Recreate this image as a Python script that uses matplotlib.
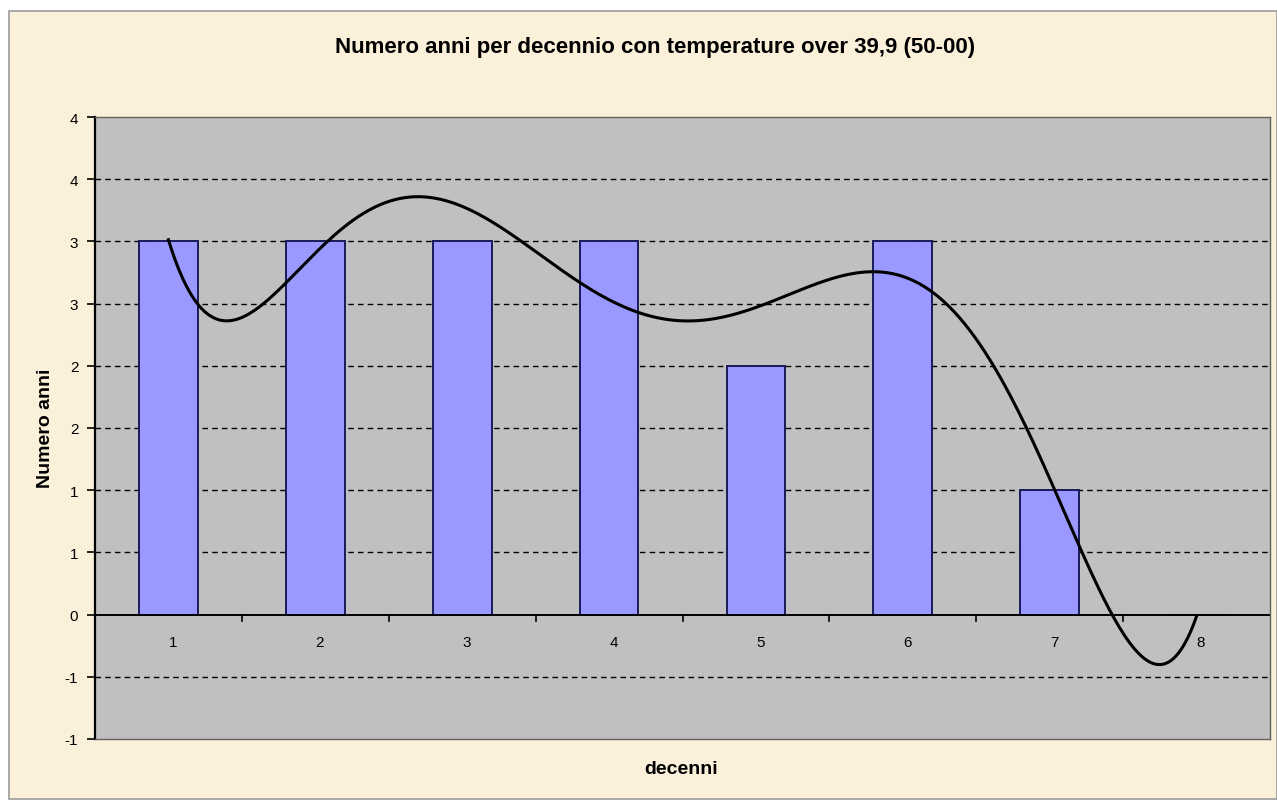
import numpy as np
import matplotlib
matplotlib.use("Agg")
import matplotlib.pyplot as plt
from matplotlib.patches import Rectangle

# ---- data ----
categories = ["1", "2", "3", "4", "5", "6", "7", "8"]
values = [3, 3, 3, 3, 2, 3, 1, 0]
y_ticks = [-1.0, -0.5, 0.0, 0.5, 1.0, 1.5, 2.0, 2.5, 3.0, 3.5, 4.0]
y_tick_labels = ["-1", "-1", "0", "1", "1", "2", "2", "3", "3", "4", "4"]
trend_degree = 6

title = "Numero anni per decennio con temperature over 39,9 (50-00)"
xlabel = "decenni"
ylabel = "Numero anni"

plt.rcParams['font.family'] = ['Liberation Sans', 'DejaVu Sans']

W, H = 1277, 804
fig = plt.figure(figsize=(W / 100, H / 100), dpi=100)
fig.patch.set_facecolor("white")
# chart area background (parchment)
bg = Rectangle((9 / W, 4 / H), (W - 9) / W, (792 - 4) / H, transform=fig.transFigure,
               facecolor="#FBF0DA", edgecolor="#9A9A9A", linewidth=1.2, zorder=-5)
fig.patches.append(bg)

ax = fig.add_axes([95 / W, (H - 740) / H, (1270 - 95) / W, (740 - 118) / H])
ax.set_zorder(2)
ax.set_facecolor("#C0C0C0")

x = np.arange(1, len(categories) + 1)
ax.bar(x, values, width=0.4, color="#9999FF", edgecolor="#1A1A5A", linewidth=1.4, zorder=3)

# polynomial trendline (as Excel)
coef = np.polyfit(x, values, trend_degree)
xs = np.linspace(1, len(categories), 400)
ax.plot(xs, np.polyval(coef, xs), color="black", linewidth=2.2, zorder=4)

ax.set_xlim(0.5, len(categories) + 0.5)
ax.set_ylim(-1.0, 4.0)

# gridlines
for yv in y_ticks:
    if yv in (-1.0, 0.0, 4.0):
        continue
    ax.axhline(yv, color="black", linestyle=(0, (4, 3)), linewidth=1.0, zorder=1)

# x axis at zero
ax.axhline(0, color="black", linewidth=1.4, zorder=5)
for b in np.arange(1.5, len(categories) + 0.5, 1.0):
    ax.plot([b, b], [0, -0.05], color="black", linewidth=1.2, zorder=5, clip_on=False)

ax.set_yticks(y_ticks)
ax.set_yticklabels(y_tick_labels, fontsize=11)
ax.tick_params(axis="y", direction="out", length=6, width=1.2, pad=6)
ax.set_xticks([])
for xi, lab in zip(x, categories):
    ax.text(xi + 0.03, -0.22, lab, ha="center", va="center", fontsize=11, zorder=6)

for s in ["top", "right", "bottom"]:
    ax.spines[s].set_color("#606060")
    ax.spines[s].set_linewidth(1.0)
ax.spines["left"].set_color("black")
ax.spines["left"].set_linewidth(1.6)

fig.text(655 / W, 1 - 47 / H, title, ha="center", va="center", fontsize=16, fontweight="bold")
fig.text(681 / W, 1 - 770 / H, xlabel, ha="center", va="center", fontsize=14, fontweight="bold")
fig.text(45 / W, 1 - 428 / H, ylabel, ha="center", va="center", rotation=90, fontsize=14, fontweight="bold")

fig.savefig("out.png", dpi=100)
